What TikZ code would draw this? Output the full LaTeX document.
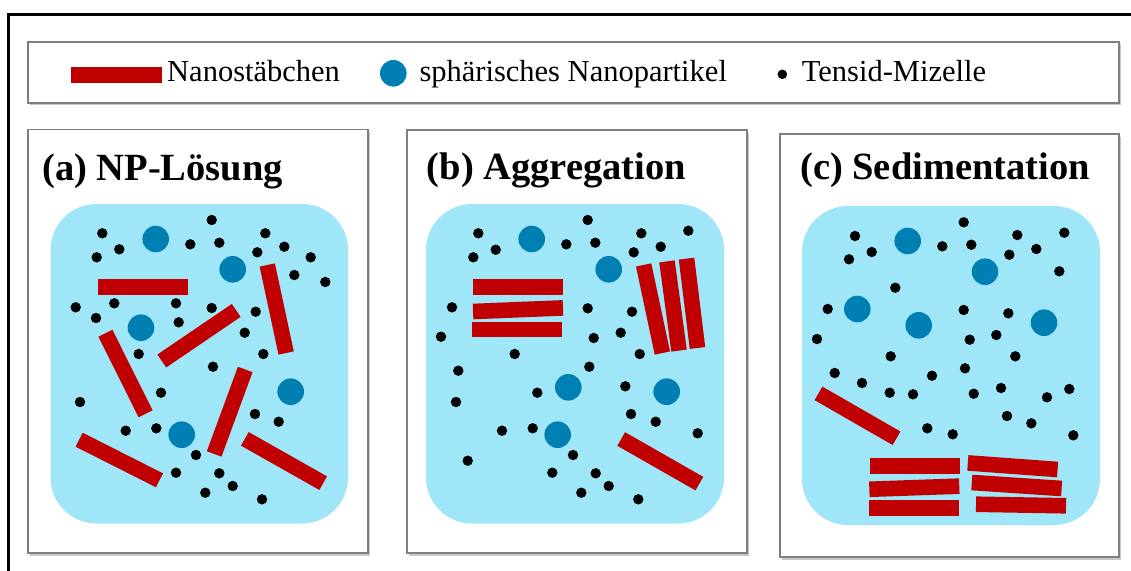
\documentclass[tikz,border=0pt]{standalone}
\usepackage{fontspec}
\setmainfont{Liberation Serif}
\usetikzlibrary{shadows}

\definecolor{rodred}{HTML}{C00000}
\definecolor{npblue}{HTML}{0080B2}
\definecolor{fluid}{HTML}{9EE6F8}
\definecolor{framegray}{HTML}{7F7F7F}

\tikzset{
  panelbox/.style={draw=framegray, line width=1.8pt, fill=white,
    drop shadow={shadow xshift=2pt, shadow yshift=-2.5pt, opacity=0.22, fill=black}},
  fluidbox/.style={fill=fluid, rounded corners=46pt},
  rod/.style={fill=rodred},
  micelle/.style={fill=black},
  sphere/.style={fill=npblue},
  legendtext/.style={anchor=base west, inner sep=0pt, font=\fontsize{30.5}{36}\selectfont},
  paneltitle/.style={anchor=base west, inner sep=0pt, font=\bfseries\fontsize{38.5}{44}\selectfont},
}

% a nanorod centred at (#1,#2), turned by #3 degrees
\newcommand\rodat[3]{\fill[rod, shift={(#1,#2)}, rotate=#3] (-45,-7.8) rectangle (45,7.8);}
% a spherical nanoparticle
\newcommand\npat[2]{\fill[sphere] (#1,#2) circle[radius=13.3];}

\begin{document}
\begin{tikzpicture}[x=1pt, y=-1pt]
  \useasboundingbox (0,0) rectangle (1131,570);
  \clip (0,0) rectangle (1131,570);

  % outer frame
  \draw[line width=3pt] (8.7,600) -- (8.7,14) -- (1160,14);

  % legend
  \draw[panelbox] (28.3,41.7) rectangle (1119.3,102.7);
  \fill[rod] (70.7,66.7) rectangle (161.7,83.3);
  \node[legendtext] (lrod) at (167,81.7) {Nanostäbchen};
  \fill[sphere] (393.3,73.3) circle[radius=13.3];
  \node[legendtext] (lsphere) at (419.3,81.7) {sphärisches Nanopartikel};
  \fill[micelle] (782.3,74.3) circle[radius=4.8];
  \node[legendtext] (lmicelle) at (801.7,81.7) {Tensid-Mizelle};

  % ---------------- (a) NP solution ----------------
  \draw[panelbox] (28,129.5) rectangle (368,553);
  \node[paneltitle] (ta) at (42,180) {(a) NP-Lösung};
  \fill[fluidbox] (50.5,204) rectangle (348,523.5);
  \foreach \x/\y in {102.3/233.3, 119.3/249.3, 96.7/257.3, 211.7/220, 190.3/244.3,
      219.3/242.7, 265.3/233.3, 257.3/252.3, 284.3/246.7, 310.7/257.3, 294.3/275,
      325.3/282, 75.7/307.3, 96/318, 114.3/303.3, 176/303.3, 178.7/322.3,
      211.7/308, 255.7/311.7, 244.7/332.7, 263.3/354, 138.7/354, 213/366.7,
      161/392.7, 80/402, 255/414, 278.7/421.7, 125.7/430.7, 156.3/428.3,
      196/455, 176/472.7, 219.3/473.3, 232.7/486, 205.3/492.7, 262/499.3}
    \fill[micelle] (\x,\y) circle[radius=5.2];
  \npat{155.7}{239} \npat{232.7}{269.3} \npat{141}{327.7}
  \npat{290.7}{391.7} \npat{181.7}{434.7}
  \rodat{142.5}{287}{0}
  \rodat{276.7}{309}{-77.9}
  \rodat{199}{335.7}{34.2}
  \rodat{125.5}{373.5}{-63.5}
  \rodat{229.7}{411.7}{69.8}
  \rodat{119.3}{460}{-26.8}
  \rodat{284}{461}{-29.5}

  % ---------------- (b) aggregation ----------------
  \draw[panelbox] (407,130) rectangle (747,553);
  \node[paneltitle] (tb) at (426.7,179) {(b) Aggregation};
  \fill[fluidbox] (426,204) rectangle (724,523.5);
  \foreach \x/\y in {478.3/233.3, 495.7/249.7, 473.3/257.3, 587.7/220, 566.3/244.3,
      595.3/242.7, 641.3/233.3, 633.7/252.3, 660.7/246.7, 688.3/230.7, 452/307.3,
      441/336.7, 587.7/308.3, 632/311.7, 620.7/332.7, 593.7/338, 639.7/354,
      514.7/354, 589.3/366.7, 458.3/370.7, 456/402, 537.3/392.7, 625.3/386.3,
      631/414, 655.7/421.7, 697.7/433.3, 502/430.7, 532.7/428.3, 573/455,
      467.7/460.7, 552.3/472.7, 595.7/473.3, 608.7/486, 581.3/492.7, 638.3/499.3}
    \fill[micelle] (\x,\y) circle[radius=5.2];
  \npat{531.7}{239} \npat{608.7}{269.3} \npat{568.3}{387.3}
  \npat{666.7}{391.7} \npat{557.7}{434.7}
  \rodat{518.3}{287}{0}
  \rodat{518}{309.7}{2.3}
  \rodat{516.7}{329.5}{0}
  \rodat{653}{309}{-78}
  \rodat{673}{306}{-82.3}
  \rodat{692}{303.3}{-83}
  \rodat{660.3}{461.3}{-29.7}

  % ---------------- (c) sedimentation ----------------
  \draw[panelbox] (780,134) rectangle (1119,557);
  \node[paneltitle] (tc) at (800,179) {(c) Sedimentation};
  \fill[fluidbox] (802,206) rectangle (1100,525);
  \foreach \x/\y in {855/236, 871.7/252, 849/259.3, 963.7/222.3, 942.3/246.3,
      971.3/244.7, 1017.3/235, 1009.3/254.7, 1036.3/249, 1064.3/232.7,
      1059.3/271.3, 895.3/287.7, 827.7/309, 817/339, 963.7/310, 1008.3/313.3,
      996.3/335, 969.7/339.7, 1015.3/356.3, 890.7/356.3, 965/368.3, 834.7/373,
      862/383, 932/375.7, 889.7/392.7, 913/394.3, 973.7/393.7, 1001/388,
      1047/397.3, 1069.3/389, 1007/416, 1031.3/423.3, 1073.3/435.3,
      927.3/428.3, 952.7/434.3}
    \fill[micelle] (\x,\y) circle[radius=5.2];
  \npat{907.7}{241} \npat{985}{271.7} \npat{857.3}{309}
  \npat{918.7}{325.3} \npat{1044}{322.7}
  \rodat{857.5}{415.8}{-29.9}
  \rodat{915}{465.8}{0}
  \rodat{914.3}{487.7}{2}
  \rodat{913.7}{507.8}{0}
  \rodat{1012.7}{466.2}{-4.2}
  \rodat{1016.7}{485.5}{-3.8}
  \rodat{1021}{505}{-1}
\end{tikzpicture}
\end{document}
